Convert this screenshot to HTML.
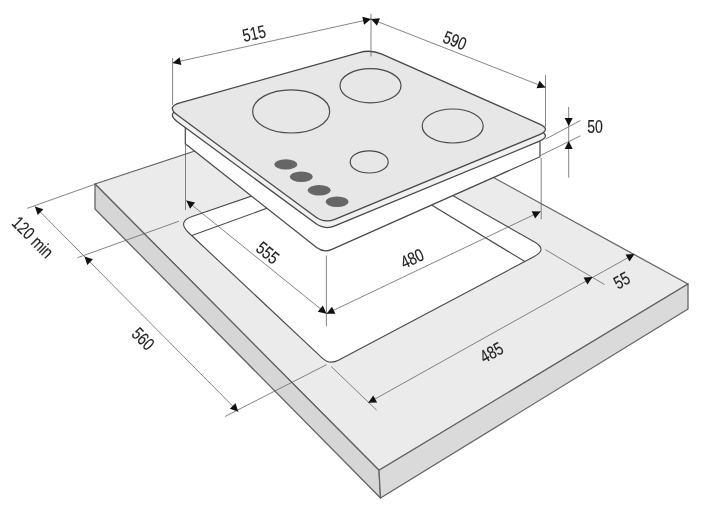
<!DOCTYPE html>
<html><head><meta charset="utf-8"><style>
html,body{margin:0;padding:0;background:#fff;}
svg{display:block;filter:blur(0.35px);}
text{font-family:"Liberation Sans",sans-serif;}
</style></head><body>
<svg width="701" height="510" viewBox="0 0 701 510">
<rect width="701" height="510" fill="#fff"/>
<polygon points="95,184 351,99.5 688,284 379,470.3" fill="#ebebeb" stroke="#626262" stroke-width="1.25"/>
<polygon points="95,184 379,470.3 380.5,498 95,209" fill="#d6d6d6" stroke="#626262" stroke-width="1.25" stroke-linejoin="round"/>
<polygon points="379,470.3 688,284 688,309 380.5,498" fill="#dadada" stroke="#626262" stroke-width="1.25" stroke-linejoin="round"/>
<path d="M188.67,232.74 Q177.00,221.80 192.13,216.59 L368.69,155.73 Q377.20,152.80 385.03,157.24 L534.55,242.00 Q547.60,249.40 534.35,256.42 L338.44,360.22 Q329.60,364.90 322.31,358.06 Z" fill="#fff" stroke="#484848" stroke-width="1.1"/>
<line x1="191.9" y1="235.5" x2="300" y2="196.3" stroke="#484848" stroke-width="1.1"/>
<line x1="420" y1="198" x2="524.8" y2="261.5" stroke="#484848" stroke-width="1.1"/>
<path d="M185.31,118.00 Q185.30,118.00 185.30,118.01 L185.30,143.79 Q185.30,143.80 185.31,143.81 L316.63,247.43 Q323.70,253.00 331.92,249.34 L539.99,156.80 Q540.00,156.80 540.00,156.79 L540.00,130.01 Q540.00,130.00 539.99,130.00 Z" fill="#fff" stroke="#484848" stroke-width="1.2"/>
<path d="M177.68,121.90 Q166.00,113.30 179.96,109.39 L359.34,59.14 Q370.90,55.90 381.87,60.76 L539.10,130.43 Q551.90,136.10 538.96,141.45 L334.77,225.90 Q324.60,230.10 315.74,223.58 Z" fill="#f1f1f1" stroke="#484848" stroke-width="1.3"/>
<path d="M177.68,115.30 Q166.00,106.70 179.96,102.79 L359.34,52.54 Q370.90,49.30 381.87,54.16 L539.10,123.83 Q551.90,129.50 538.96,134.85 L334.77,219.30 Q324.60,223.50 315.74,216.98 Z" fill="#e7e7e7" stroke="#484848" stroke-width="1.3"/>
<ellipse cx="291.2" cy="111.4" rx="38.5" ry="21.6" fill="none" stroke="#4a4a4a" stroke-width="1.2"/>
<ellipse cx="370.5" cy="85.7" rx="30.5" ry="17.1" fill="none" stroke="#4a4a4a" stroke-width="1.2"/>
<ellipse cx="452.7" cy="126" rx="30.5" ry="17" fill="none" stroke="#4a4a4a" stroke-width="1.2"/>
<ellipse cx="369.2" cy="161.9" rx="19" ry="11.1" fill="none" stroke="#4a4a4a" stroke-width="1.2"/>
<ellipse cx="285.8" cy="164.4" rx="11.5" ry="5.2" fill="#666"/>
<ellipse cx="301.3" cy="176.8" rx="11.5" ry="5.2" fill="#666"/>
<ellipse cx="319.2" cy="190.3" rx="11.5" ry="5.2" fill="#666"/>
<ellipse cx="337.1" cy="201.8" rx="11.5" ry="5.2" fill="#666"/>
<line x1="172.6" y1="58" x2="172.6" y2="105" stroke="#666" stroke-width="0.8"/>
<line x1="371" y1="13.7" x2="371" y2="56.5" stroke="#666" stroke-width="0.8"/>
<line x1="172.6" y1="62.9" x2="371" y2="19" stroke="#666" stroke-width="0.8"/>
<path d="M172.60,62.90 L179.55,57.27 L181.28,65.08 Z" fill="#111"/>
<path d="M371.00,19.00 L364.05,24.63 L362.32,16.82 Z" fill="#111"/>
<text transform="translate(254,33) rotate(-12.3) scale(0.78,1)" font-size="18" text-anchor="middle" dominant-baseline="central" fill="#1e1e1e" stroke="#1e1e1e" stroke-width="0.15">515</text>
<line x1="545.5" y1="75" x2="545.5" y2="127" stroke="#666" stroke-width="0.8"/>
<line x1="371" y1="19" x2="545.5" y2="87.5" stroke="#666" stroke-width="0.8"/>
<path d="M371.00,19.00 L379.91,18.20 L376.99,25.65 Z" fill="#111"/>
<path d="M545.50,87.50 L536.59,88.30 L539.51,80.85 Z" fill="#111"/>
<text transform="translate(455,40) rotate(21.5) scale(0.78,1)" font-size="18" text-anchor="middle" dominant-baseline="central" fill="#1e1e1e" stroke="#1e1e1e" stroke-width="0.15">590</text>
<line x1="568.7" y1="107" x2="568.7" y2="177.6" stroke="#666" stroke-width="0.8"/>
<path d="M568.70,126.00 L564.70,118.00 L572.70,118.00 Z" fill="#111"/>
<path d="M568.70,141.00 L572.70,149.00 L564.70,149.00 Z" fill="#111"/>
<line x1="545.5" y1="139.1" x2="580.5" y2="120.5" stroke="#666" stroke-width="0.8"/>
<line x1="540" y1="155.7" x2="580.5" y2="135.8" stroke="#666" stroke-width="0.8"/>
<text transform="translate(595,126) rotate(0) scale(0.78,1)" font-size="18" text-anchor="middle" dominant-baseline="central" fill="#1e1e1e" stroke="#1e1e1e" stroke-width="0.15">50</text>
<line x1="185.5" y1="145" x2="185.5" y2="210" stroke="#666" stroke-width="0.8"/>
<line x1="326.4" y1="255.6" x2="326.4" y2="326.3" stroke="#666" stroke-width="0.8"/>
<line x1="186.3" y1="200.5" x2="326.5" y2="313.7" stroke="#666" stroke-width="0.8"/>
<path d="M186.30,200.50 L195.04,202.41 L190.01,208.64 Z" fill="#111"/>
<path d="M326.50,313.70 L317.76,311.79 L322.79,305.56 Z" fill="#111"/>
<text transform="translate(268,252.5) rotate(39) scale(0.78,1)" font-size="18" text-anchor="middle" dominant-baseline="central" fill="#1e1e1e" stroke="#1e1e1e" stroke-width="0.15">555</text>
<line x1="541.2" y1="158" x2="541.2" y2="219.4" stroke="#666" stroke-width="0.8"/>
<line x1="326.5" y1="313.7" x2="540.6" y2="211.5" stroke="#666" stroke-width="0.8"/>
<path d="M326.50,313.70 L332.00,306.64 L335.44,313.86 Z" fill="#111"/>
<path d="M540.60,211.50 L535.10,218.56 L531.66,211.34 Z" fill="#111"/>
<text transform="translate(412,258) rotate(-25) scale(0.78,1)" font-size="18" text-anchor="middle" dominant-baseline="central" fill="#1e1e1e" stroke="#1e1e1e" stroke-width="0.15">480</text>
<line x1="27" y1="208.4" x2="96" y2="183.9" stroke="#666" stroke-width="0.8"/>
<line x1="77.5" y1="257.7" x2="179" y2="221.2" stroke="#666" stroke-width="0.8"/>
<line x1="225" y1="416.5" x2="326.5" y2="364.7" stroke="#666" stroke-width="0.8"/>
<line x1="34.9" y1="206.5" x2="238.3" y2="411.7" stroke="#666" stroke-width="0.8"/>
<path d="M34.90,206.50 L43.37,209.37 L37.69,215.00 Z" fill="#111"/>
<path d="M84.50,256.50 L92.97,259.37 L87.29,265.00 Z" fill="#111"/>
<path d="M238.30,411.70 L229.83,408.83 L235.51,403.20 Z" fill="#111"/>
<text transform="translate(33,237) rotate(45) scale(0.78,1)" font-size="18" text-anchor="middle" dominant-baseline="central" fill="#1e1e1e" stroke="#1e1e1e" stroke-width="0.15">120 min</text>
<text transform="translate(143.4,338.6) rotate(45) scale(0.78,1)" font-size="18" text-anchor="middle" dominant-baseline="central" fill="#1e1e1e" stroke="#1e1e1e" stroke-width="0.15">560</text>
<line x1="331.2" y1="366.5" x2="376.7" y2="410.2" stroke="#666" stroke-width="0.8"/>
<line x1="545.4" y1="249.7" x2="604.5" y2="284.5" stroke="#666" stroke-width="0.8"/>
<line x1="368.2" y1="402.8" x2="634.5" y2="254" stroke="#666" stroke-width="0.8"/>
<path d="M368.20,402.80 L373.23,395.41 L377.13,402.39 Z" fill="#111"/>
<path d="M592.50,277.10 L587.48,284.50 L583.57,277.52 Z" fill="#111"/>
<path d="M634.50,254.00 L629.47,261.39 L625.57,254.41 Z" fill="#111"/>
<text transform="translate(491.3,352) rotate(-29) scale(0.78,1)" font-size="18" text-anchor="middle" dominant-baseline="central" fill="#1e1e1e" stroke="#1e1e1e" stroke-width="0.15">485</text>
<text transform="translate(621.5,280) rotate(-29) scale(0.78,1)" font-size="18" text-anchor="middle" dominant-baseline="central" fill="#1e1e1e" stroke="#1e1e1e" stroke-width="0.15">55</text>
</svg></body></html>
